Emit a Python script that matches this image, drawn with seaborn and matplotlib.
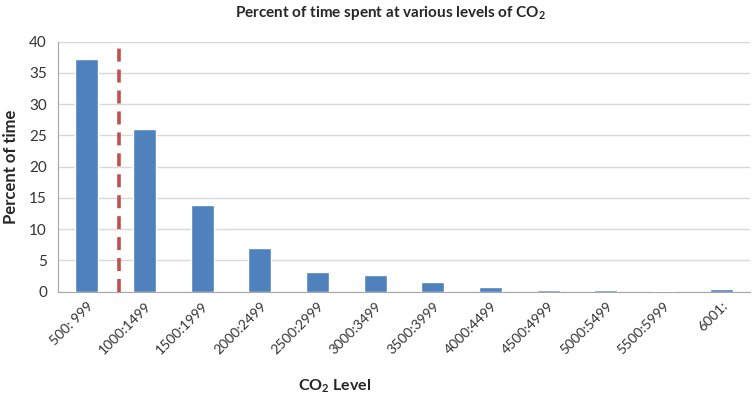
import pandas as pd
import matplotlib
matplotlib.use("Agg")
import matplotlib.pyplot as plt
import seaborn as sns

# data
levels = ["500: 999", "1000:1499", "1500:1999", "2000:2499", "2500:2999", "3000:3499",
          "3500:3999", "4000:4499", "4500:4999", "5000:5499", "5500:5999", "6001:"]
percent = [37.2, 26.1, 13.9, 7.05, 3.1, 2.7, 1.5, 0.75, 0.27, 0.2, 0.15, 0.38]
yticks = [0, 5, 10, 15, 20, 25, 30, 35, 40]
threshold_pos = 0.55  # dashed reference line, just right of the 500:999 / 1000:1499 boundary

df = pd.DataFrame({"level": levels, "percent": percent})

sns.set_style("white")
plt.rcParams["font.family"] = ["Lato", "DejaVu Sans"]
plt.rcParams["mathtext.fontset"] = "custom"
plt.rcParams["mathtext.rm"] = "Lato"
plt.rcParams["mathtext.bf"] = "Lato:bold"

fig = plt.figure(figsize=(7.55, 4.0), dpi=100)
ax = fig.add_axes([58 / 755, 1 - 291.7 / 400, 692 / 755, 250 / 400])

sns.barplot(data=df, x="level", y="percent", color="#4F81BD", saturation=1,
            width=0.4, ax=ax, zorder=3)

ax.axvline(threshold_pos, ymin=0, ymax=1, color="#C0504D", lw=2.6,
           dashes=(3.6, 2.2), zorder=4)

ax.set_ylim(0, 40)
ax.set_xlim(-0.5, len(levels) - 0.5)
ax.set_yticks(yticks)
ax.yaxis.grid(True, color="#D9D9D9", lw=1, zorder=0)
ax.set_axisbelow(True)

# ticks between categories on x
ax.set_xticks([i - 0.5 for i in range(len(levels) + 1)], minor=False)
ax.set_xticklabels([])
ax.set_xticks(range(len(levels)), minor=True)
ax.set_xticklabels(levels, minor=True, rotation=45, ha="right",
                   rotation_mode="anchor", fontsize=10, color="#333333")
ax.tick_params(axis="x", which="major", length=5, color="#A6A6A6", direction="out")
ax.tick_params(axis="x", which="minor", length=0, pad=6)
ax.tick_params(axis="y", length=5, color="#A6A6A6", direction="out",
               labelsize=11, labelcolor="#333333", pad=3)

for s in ["top", "right"]:
    ax.spines[s].set_visible(False)
for s in ["left", "bottom"]:
    ax.spines[s].set_color("#A6A6A6")

ax.set_xlabel("")
ax.set_ylabel("Percent of time", fontsize=12, fontweight="bold")
ax.yaxis.set_label_coords(-0.056, 0.5)

fig.text(335 / 755, 1 - 386 / 400, r"CO$_\mathbf{2}$ Level", ha="center", va="center",
         fontsize=11.5, fontweight="bold")
fig.text(391 / 755, 1 - 13 / 400,
         r"Percent of time spent at various levels of CO$_\mathbf{2}$",
         ha="center", va="center", fontsize=11, fontweight="bold")

fig.savefig("out.png", dpi=100)
